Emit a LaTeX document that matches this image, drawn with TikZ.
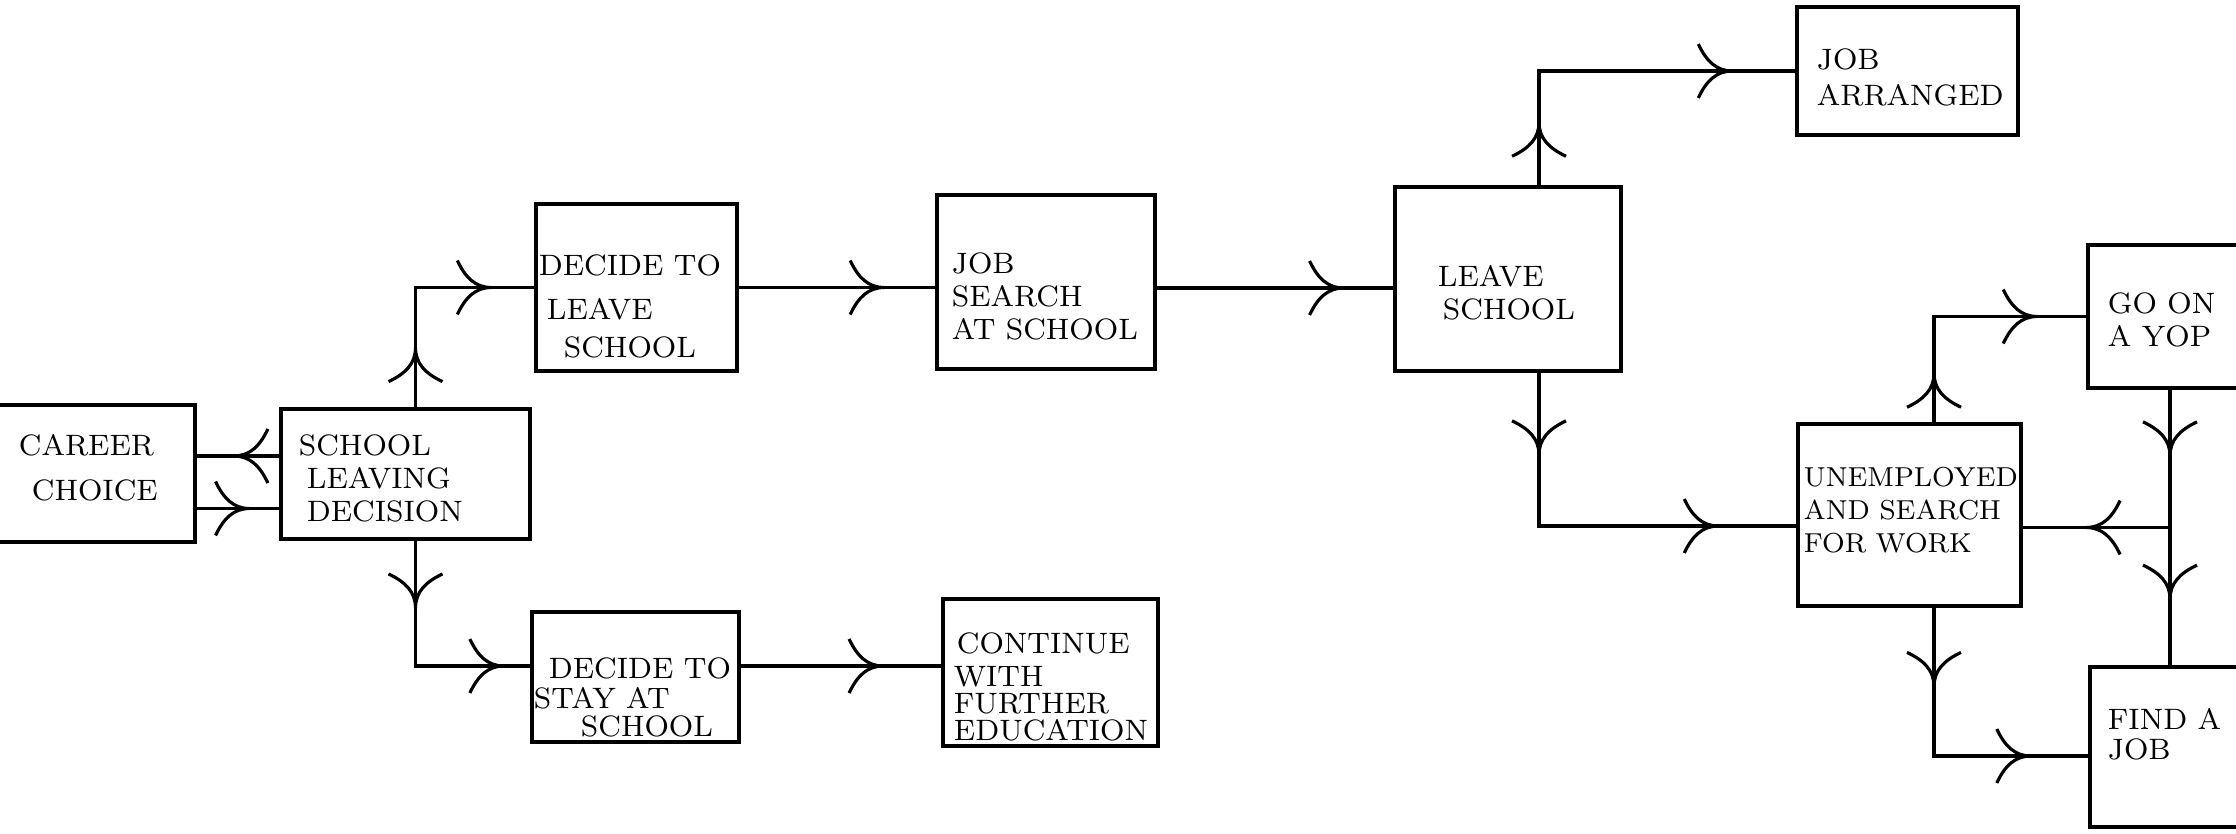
\documentclass[tikz,border=0pt]{standalone}
\usetikzlibrary{decorations.markings, positioning}
\tikzset{
    stage/.style={draw, line width=1pt, rectangle, inner sep=0pt},
    stagetext/.style={anchor=north west, align=left, inner sep=0pt, font=\fontsize{8.4}{9.4}\selectfont},
    flow/.style={line width=0.9pt},
}
\tikzset{
    /pgf/decoration/Barb/.style={
        mark=at position #1 with
        {
            \draw[line width=0.9pt] (-3.4mm,2.7mm) .. controls (-2.6mm,1.0mm) and (-1.6mm,0pt) .. (0pt,0pt)
                                   .. controls (-1.6mm,0pt) and (-2.6mm,-1.0mm) .. (-3.4mm,-2.7mm);
        }
    },
    barbs/.style={
        postaction={decorate, decoration={markings, Barb/.list={#1}}}
    },
}

\begin{document}
\begin{tikzpicture}[x=0.1mm, y=-0.1mm]
    \useasboundingbox (0,0) rectangle (2236,833);
    % boxes
    \node[stage, minimum width=23.5mm, minimum height=13.7mm] (cc) at (77.5,473.5) {};
    \node[stage, minimum width=24.9mm, minimum height=13.0mm] (sld) at (405.5,474) {};
    \node[stage, minimum width=20.1mm, minimum height=16.7mm] (dtl) at (636.5,287.5) {};
    \node[stage, minimum width=20.7mm, minimum height=13.0mm] (dts) at (635.5,677) {};
    \node[stage, minimum width=21.8mm, minimum height=17.4mm] (jss) at (1046,282) {};
    \node[stage, minimum width=21.5mm, minimum height=14.7mm] (cont) at (1050.5,672.5) {};
    \node[stage, minimum width=22.6mm, minimum height=18.4mm] (ls) at (1508,279) {};
    \node[stage, minimum width=22.1mm, minimum height=12.8mm] (ja) at (1907.5,71) {};
    \node[stage, minimum width=22.3mm, minimum height=18.2mm] (une) at (1909.5,515) {};
    \node[stage, minimum width=16.4mm, minimum height=14.3mm] (goy) at (2170,316.5) {};
    \node[stage, minimum width=16.0mm, minimum height=16.0mm] (faj) at (2170,747) {};
    % texts
    \node[stagetext] (cctext) at ([shift={(60,30)}]cc.north west) {CAREER\\[1.2mm]\hspace{1.3mm}CHOICE};
    \node[stagetext] (sldtext) at ([shift={(19,27)}]sld.north west) {SCHOOL\\\hspace{0.8mm}LEAVING\\\hspace{0.8mm}DECISION};
    \node[stagetext] (dtltext) at ([shift={(4,52)}]dtl.north west) {DECIDE TO\\[1.1mm]\hspace{0.8mm}LEAVE\\[0.5mm]\hspace{2.5mm}SCHOOL};
    \node[stagetext] (dtstext) at ([shift={(3,47)}]dts.north west) {\hspace{1.5mm}DECIDE TO\\[-0.3mm]STAY AT\\[-0.5mm]\hspace{4.7mm}SCHOOL};
    \node[stagetext] (jsstext) at ([shift={(16,59)}]jss.north west) {JOB\\SEARCH\\AT SCHOOL};
    \node[stagetext] (conttext) at ([shift={(12,35)}]cont.north west) {\hspace{0.3mm}CONTINUE\\WITH\\[-0.6mm]FURTHER\\[-0.6mm]EDUCATION};
    \node[stagetext] (lstext) at ([shift={(44,79)}]ls.north west) {LEAVE\\\hspace{0.5mm}SCHOOL};
    \node[stagetext] (jatext) at ([shift={(21,43)}]ja.north west) {JOB\\[0.3mm]ARRANGED};
    \node[stagetext, font=\fontsize{7.8}{9.4}\selectfont] (unetext) at ([shift={(7,44)}]une.north west) {UNEMPLOYED\\AND SEARCH\\FOR WORK};
    \node[stagetext] (goytext) at ([shift={(21,49)}]goy.north west) {GO ON\\A YOP};
    \node[stagetext] (fajtext) at ([shift={(19,42)}]faj.north west) {FIND A\\[-0.3mm]JOB};
    % connectors
    \path ([yshift=1.8mm]sld.west) coordinate (sldout);
    \path ([yshift=-3.5mm]cc.east) coordinate (ccout);
    \draw[flow, barbs={0.55}] (sldout) -- (sldout -| cc.east);
    \draw[flow, barbs={0.64}] (ccout) -- (ccout -| sld.west);
    \draw[flow, barbs={0.25,0.82}] ([xshift=1mm]sld.north) |- (dtl.west);
    \draw[flow, barbs={0.28,0.89}] ([xshift=1mm]sld.south) |- ([yshift=1.1mm]dts.west);
    \draw[flow, barbs={0.74}] (dtl.east) -- (dtl.east -| jss.west);
    \path ([yshift=1.1mm]dts.east) coordinate (dtsout);
    \draw[flow, barbs={0.71}] (dtsout) -- (dtsout -| cont.west);
    \path ([yshift=-0.6mm]jss.east) coordinate (jssout);
    \draw[flow, barbs={0.79}] (jssout) -- (jssout -| ls.west);
    \draw[flow, barbs={0.17,0.83}] ([xshift=3.1mm]ls.north) |- (ja.west);
    \draw[flow, barbs={0.2,0.81}] ([xshift=3.1mm]ls.south) |- ([yshift=-1.1mm]une.west);
    \draw[flow, barbs={0.19,0.81}] ([xshift=2.45mm]une.north) |- (goy.west);
    \draw[flow, barbs={0.26,0.81}] ([xshift=2.45mm]une.south) |- ([yshift=-0.9mm]faj.west);
    \draw[flow, barbs={0.24,0.76}] (goy.south) -- (faj.north);
    \path (goy.south) -- (faj.north) coordinate[pos=0.5] (split);
    \draw[flow, barbs={0.57}] (split) -- (split -| une.east);
\end{tikzpicture}
\end{document}
